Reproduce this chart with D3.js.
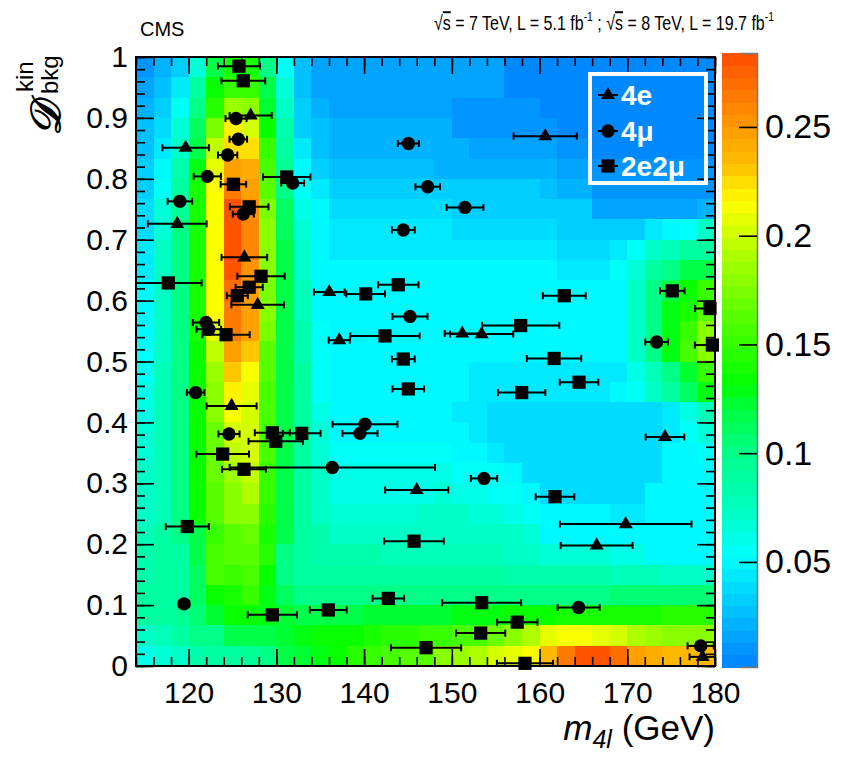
<!DOCTYPE html>
<html>
<head>
<meta charset="utf-8">
<script src="https://cdn.jsdelivr.net/npm/d3@7"></script>
<style>
  body { margin: 0; background: #fff; }
  svg text { font-family: "Liberation Sans", Arial, Helvetica, sans-serif; }
</style>
</head>
<body>
<div id="my_dataviz"></div>
<script>
// m4l bins: lower edges, 2 GeV wide
const massBins = [114,116,118,120,122,124,126,128,130,132,134,136,138,140,142,144,146,148,150,152,154,156,158,160,162,164,166,168,170,172,174,176,178];
const nDBins = 30;

// expected density, one row per D bin, from D = 1 (top) down to D = 0
const density = [
  [.010,.020,.030,.065,.118,.140,.142,.100,.055,.025,.018,.013,.013,.013,.013,.013,.013,.013,.013,.013,.013,.004,.004,.004,.004,.004,.004,.004,.004,.004,.004,.004,.004],
  [.015,.025,.045,.090,.132,.150,.150,.115,.065,.025,.018,.014,.014,.014,.014,.014,.014,.014,.014,.014,.014,.005,.005,.005,.005,.005,.005,.005,.005,.005,.005,.005,.005],
  [.020,.030,.055,.100,.145,.185,.180,.125,.072,.030,.022,.016,.016,.016,.016,.016,.016,.016,.010,.010,.010,.010,.010,.005,.005,.005,.005,.005,.005,.005,.005,.005,.005],
  [.025,.040,.068,.110,.175,.220,.200,.135,.085,.035,.025,.020,.020,.020,.020,.020,.020,.020,.012,.012,.012,.012,.012,.012,.006,.006,.006,.006,.006,.006,.006,.006,.006],
  [.028,.045,.075,.120,.195,.225,.225,.150,.090,.045,.028,.022,.022,.022,.022,.022,.022,.022,.022,.016,.016,.016,.016,.016,.011,.011,.006,.006,.006,.006,.006,.006,.006],
  [.030,.050,.085,.128,.205,.250,.240,.155,.095,.048,.032,.028,.028,.028,.028,.028,.028,.024,.024,.024,.024,.024,.024,.024,.016,.016,.008,.008,.008,.008,.008,.008,.008],
  [.033,.055,.090,.138,.215,.267,.250,.165,.100,.055,.045,.032,.032,.032,.032,.032,.032,.030,.030,.030,.030,.030,.030,.027,.020,.020,.011,.011,.011,.011,.011,.011,.011],
  [.036,.065,.095,.140,.215,.280,.255,.175,.110,.062,.048,.040,.040,.040,.040,.040,.040,.040,.030,.030,.030,.030,.030,.030,.030,.030,.018,.013,.013,.013,.013,.013,.020],
  [.040,.068,.100,.140,.215,.284,.260,.180,.112,.068,.050,.045,.045,.045,.045,.045,.045,.045,.038,.038,.038,.038,.038,.038,.030,.030,.030,.032,.032,.045,.050,.055,.070],
  [.042,.070,.100,.140,.215,.284,.260,.180,.115,.072,.050,.046,.046,.046,.046,.046,.046,.046,.043,.043,.043,.043,.043,.043,.040,.040,.040,.045,.058,.070,.078,.088,.092],
  [.045,.070,.100,.140,.215,.280,.255,.178,.118,.075,.052,.050,.050,.050,.050,.050,.050,.050,.048,.048,.048,.048,.048,.048,.045,.045,.045,.055,.065,.088,.100,.118,.118],
  [.048,.072,.100,.140,.215,.272,.250,.175,.120,.078,.052,.050,.050,.050,.050,.050,.050,.050,.050,.050,.050,.050,.050,.050,.050,.050,.050,.050,.070,.100,.120,.132,.150],
  [.050,.072,.100,.140,.215,.267,.250,.180,.120,.080,.052,.050,.050,.050,.050,.050,.050,.050,.050,.050,.050,.050,.050,.050,.050,.050,.050,.050,.072,.102,.128,.140,.165],
  [.052,.075,.100,.140,.210,.262,.245,.172,.120,.082,.053,.050,.050,.050,.050,.050,.050,.050,.050,.050,.050,.050,.050,.050,.050,.050,.050,.050,.075,.102,.128,.152,.182],
  [.055,.075,.100,.135,.195,.245,.230,.165,.118,.085,.055,.050,.050,.050,.050,.050,.050,.050,.050,.050,.050,.050,.050,.050,.050,.050,.050,.052,.070,.100,.128,.155,.180],
  [.058,.078,.100,.135,.185,.228,.215,.160,.118,.088,.058,.050,.050,.050,.050,.050,.050,.050,.050,.042,.042,.042,.042,.042,.042,.042,.042,.046,.062,.080,.100,.122,.150],
  [.060,.078,.100,.135,.180,.218,.205,.158,.118,.088,.058,.050,.050,.050,.050,.050,.050,.050,.050,.042,.042,.042,.042,.042,.042,.042,.042,.048,.058,.072,.088,.112,.130],
  [.062,.078,.100,.135,.180,.212,.203,.157,.118,.088,.060,.050,.050,.050,.050,.050,.050,.050,.045,.045,.037,.037,.037,.037,.037,.037,.037,.037,.037,.037,.045,.062,.080],
  [.065,.078,.100,.135,.170,.200,.200,.155,.118,.088,.065,.052,.052,.052,.052,.052,.052,.052,.048,.045,.037,.037,.037,.037,.037,.037,.037,.037,.037,.037,.042,.055,.068],
  [.068,.078,.100,.135,.168,.195,.200,.155,.118,.088,.068,.056,.056,.056,.056,.056,.056,.053,.050,.050,.046,.037,.037,.037,.037,.037,.037,.037,.037,.037,.048,.052,.055],
  [.070,.078,.100,.135,.168,.188,.195,.152,.118,.088,.070,.060,.060,.060,.060,.060,.060,.060,.056,.056,.053,.050,.037,.037,.037,.037,.037,.037,.037,.037,.050,.050,.050],
  [.072,.078,.100,.135,.165,.180,.190,.150,.118,.088,.072,.063,.063,.063,.063,.063,.063,.066,.060,.060,.058,.054,.050,.040,.040,.040,.040,.040,.040,.048,.048,.048,.048],
  [.075,.078,.100,.135,.165,.177,.182,.147,.118,.088,.072,.066,.066,.066,.066,.066,.070,.070,.070,.068,.068,.062,.056,.050,.050,.050,.050,.043,.043,.050,.050,.050,.050],
  [.080,.088,.100,.120,.152,.165,.170,.140,.120,.090,.082,.075,.075,.075,.075,.075,.075,.075,.075,.072,.072,.072,.064,.052,.052,.052,.052,.052,.052,.052,.052,.052,.052],
  [.085,.088,.090,.120,.158,.160,.160,.145,.100,.088,.085,.082,.082,.082,.078,.078,.078,.078,.078,.078,.078,.075,.075,.065,.065,.065,.065,.060,.060,.052,.052,.052,.052],
  [.085,.088,.090,.110,.155,.152,.155,.137,.100,.090,.088,.088,.088,.088,.088,.088,.088,.088,.088,.088,.088,.085,.085,.085,.085,.085,.085,.078,.078,.078,.072,.072,.072],
  [.088,.090,.092,.110,.135,.142,.150,.130,.112,.100,.100,.098,.098,.098,.098,.098,.098,.098,.098,.098,.098,.098,.098,.100,.100,.100,.100,.105,.105,.105,.105,.105,.105],
  [.090,.092,.095,.105,.125,.135,.135,.128,.122,.118,.118,.120,.120,.122,.122,.122,.122,.122,.127,.127,.127,.132,.132,.132,.140,.140,.140,.140,.140,.140,.145,.145,.145],
  [.072,.078,.090,.098,.100,.120,.120,.115,.122,.128,.132,.137,.137,.140,.145,.146,.150,.152,.155,.158,.170,.180,.190,.205,.215,.216,.210,.200,.190,.183,.182,.178,.178],
  [.062,.068,.075,.085,.090,.090,.095,.100,.115,.125,.130,.137,.145,.150,.155,.160,.165,.180,.185,.190,.200,.210,.215,.238,.267,.284,.284,.268,.250,.240,.238,.235,.235]
];

const xTicks = [120,130,140,150,160,170,180];
const yTicks = [0,0.1,0.2,0.3,0.4,0.5,0.6,0.7,0.8,0.9,1];
const zTicks = [0.05,0.1,0.15,0.2,0.25];
const zRange = [0.0017, 0.284];
const paletteStops  = [0, .010, .025, .040, .052, .075, .100, .120, .132, .150, .185, .205, .215, .225, .232, .250, .284];
const paletteColors = ["#0080ff","#0095ff","#00bbff","#00e0ff","#00ffff","#00ffc0","#00ff88","#00ff40","#00ff00","#33ff00","#99ff00","#ddff00","#ffff00","#ffdd00","#ffc000","#ff9a00","#ff4d00"];

// 4e events: m4l, D, m4l error
const m4e = [127.07,119.66,118.70,126.35,127.87,136.03,137.17,124.90,151.19,153.40,160.65,174.30,169.82,166.51,146.00,178.60];
const d4e = [0.904,0.851,0.726,0.671,0.593,0.614,0.535,0.427,0.546,0.545,0.870,0.376,0.233,0.198,0.289,0.015];
const e4e = [2.4,2.65,3.35,2.6,3.0,1.75,1.2,2.85,2.0,3.6,3.6,2.2,7.5,4.1,3.6,1.5];

// 4mu events
const m4mu = [125.40,125.66,124.45,122.13,131.86,119.00,126.23,145.05,147.25,151.50,144.47,145.23,121.98,122.30,120.80,124.60,140.10,139.53,136.38,119.47,153.67,164.46,178.37,173.35];
const d4mu = [0.899,0.865,0.839,0.804,0.793,0.763,0.742,0.858,0.787,0.753,0.716,0.574,0.564,0.553,0.449,0.381,0.397,0.382,0.326,0.102,0.308,0.096,0.033,0.532];
const e4mu = [1.2,1.0,1.1,1.55,1.3,1.4,1.2,1.2,1.4,2.1,1.3,2.0,1.5,1.4,1.0,1.2,3.7,2.0,11.7,0.6,1.5,2.4,1.5,1.3];

// 2e2mu events
const m2e2mu = [125.74,126.23,131.18,125.10,126.90,128.25,117.68,126.90,125.55,140.18,143.90,124.26,142.38,162.82,157.85,175.13,179.43,179.70,161.65,164.50,157.96,161.76,153.40,157.46,153.29,147.06,158.34,145.04,145.69,144.47,129.54,132.89,129.93,123.88,126.31,119.85,129.54,135.92,142.76];
const d2e2mu = [0.985,0.961,0.803,0.791,0.754,0.640,0.629,0.622,0.608,0.611,0.626,0.544,0.542,0.608,0.559,0.616,0.587,0.527,0.505,0.466,0.449,0.278,0.104,0.072,0.054,0.030,0.0044,0.455,0.205,0.504,0.383,0.382,0.369,0.348,0.323,0.229,0.084,0.092,0.111];
const e2e2mu = [2.4,2.5,2.7,1.45,2.2,2.7,3.8,1.55,1.2,2.2,2.3,2.7,3.95,2.45,4.4,1.4,1.7,2.0,3.1,2.2,2.7,2.2,4.5,2.3,2.8,4.0,3.2,1.8,3.4,1.3,2.0,2.15,3.1,3.0,2.5,2.45,2.8,2.1,1.8];

// frame
var margin = {top: 57, left: 136};
var width = 579, height = 609;

var svg = d3.select("#my_dataviz")
  .append("svg")
    .attr("width", 846)
    .attr("height", 758);

var g = svg.append("g")
  .attr("transform", "translate(" + margin.left + "," + margin.top + ")");

var x = d3.scaleLinear().domain([114, 180]).range([0, width]);
var y = d3.scaleLinear().domain([0, 1]).range([height, 0]);
var color = d3.scaleLinear().domain(paletteStops).range(paletteColors).clamp(true);

// ROOT-like discrete palette levels
var nLevels = 50;
function levelColor(v) {
  var t = (v - zRange[0]) / (zRange[1] - zRange[0]);
  t = Math.max(0, Math.min(0.9999, t));
  var k = Math.floor(t * nLevels);
  return color(zRange[0] + (k + 0.5) * (zRange[1] - zRange[0]) / nLevels);
}

// heat map cells
var cells = [];
density.forEach(function(row, r) {
  var j = nDBins - 1 - r;
  row.forEach(function(v, i) {
    cells.push({m0: massBins[i], m1: massBins[i] + 2, d0: j / nDBins, d1: (j + 1) / nDBins, v: v});
  });
});

g.append("g")
  .selectAll("rect")
  .data(cells)
  .enter()
  .append("rect")
    .attr("x", function(c) { return x(c.m0); })
    .attr("y", function(c) { return y(c.d1); })
    .attr("width", function(c) { return x(c.m1) - x(c.m0) + 0.6; })
    .attr("height", function(c) { return y(c.d0) - y(c.d1) + 0.6; })
    .attr("fill", function(c) { return levelColor(c.v); })
    .attr("shape-rendering", "crispEdges");

// axes, ticks inside the frame
var minorX = d3.range(114, 181, 2);
var minorY = d3.range(0, 1.0001, 0.02);

function styleAxis(sel) {
  sel.select(".domain").remove();
  sel.selectAll(".tick line").attr("stroke", "#000").attr("stroke-width", 1.6);
}

g.append("g").attr("transform", "translate(0," + height + ")")
  .call(d3.axisBottom(x).tickValues(minorX).tickSize(-9).tickFormat(""))
  .call(styleAxis);
g.append("g").attr("transform", "translate(0," + height + ")")
  .call(d3.axisBottom(x).tickValues(xTicks).tickSize(-17).tickPadding(16).tickFormat(d3.format("d")))
  .call(styleAxis)
  .selectAll("text").attr("font-size", 30).attr("fill", "#000").attr("font-family", "Liberation Sans, Arial, sans-serif");

g.append("g")
  .call(d3.axisTop(x).tickValues(minorX).tickSize(-9).tickFormat(""))
  .call(styleAxis);
g.append("g")
  .call(d3.axisTop(x).tickValues(xTicks).tickSize(-17).tickFormat(""))
  .call(styleAxis);

g.append("g")
  .call(d3.axisLeft(y).tickValues(minorY).tickSize(-9).tickFormat(""))
  .call(styleAxis);
g.append("g")
  .call(d3.axisLeft(y).tickValues(yTicks).tickSize(-18).tickPadding(8)
    .tickFormat(function(d) { return d === 0 ? "0" : d === 1 ? "1" : d3.format(".1f")(d); }))
  .call(styleAxis)
  .selectAll("text").attr("font-size", 30).attr("fill", "#000").attr("font-family", "Liberation Sans, Arial, sans-serif");

g.append("g").attr("transform", "translate(" + width + ",0)")
  .call(d3.axisRight(y).tickValues(minorY).tickSize(-9).tickFormat(""))
  .call(styleAxis);
g.append("g").attr("transform", "translate(" + width + ",0)")
  .call(d3.axisRight(y).tickValues(yTicks).tickSize(-18).tickFormat(""))
  .call(styleAxis);

g.append("rect")
  .attr("width", width).attr("height", height)
  .attr("fill", "none").attr("stroke", "#000").attr("stroke-width", 2);

// events with horizontal error bars
function drawChannel(ms, ds, es, shape, parent, xs, ys) {
  var pts = ms.map(function(m, i) { return {m: m, d: ds[i], e: es[i]}; });
  var grp = parent.append("g");
  var lo = function(p) { return Math.max(xs.domain()[0], p.m - p.e); };
  var hi = function(p) { return Math.min(xs.domain()[1], p.m + p.e); };
  grp.selectAll(".bar").data(pts).enter().append("line")
    .attr("x1", function(p) { return xs(lo(p)); })
    .attr("x2", function(p) { return xs(hi(p)); })
    .attr("y1", function(p) { return ys(p.d); })
    .attr("y2", function(p) { return ys(p.d); })
    .attr("stroke", "#000").attr("stroke-width", 2);
  var caps = [];
  pts.forEach(function(p) {
    if (p.m - p.e > xs.domain()[0]) caps.push({m: p.m - p.e, d: p.d});
    if (p.m + p.e < xs.domain()[1]) caps.push({m: p.m + p.e, d: p.d});
  });
  grp.selectAll(".cap").data(caps).enter().append("line")
    .attr("x1", function(c) { return xs(c.m); })
    .attr("x2", function(c) { return xs(c.m); })
    .attr("y1", function(c) { return ys(c.d) - 3.5; })
    .attr("y2", function(c) { return ys(c.d) + 3.5; })
    .attr("stroke", "#000").attr("stroke-width", 2);
  grp.selectAll(".mk").data(pts).enter().append("path")
    .attr("transform", function(p) { return "translate(" + xs(p.m) + "," + ys(p.d) + ")"; })
    .attr("d", d3.symbol().type(shape.type).size(shape.size))
    .attr("fill", "#000");
}

var triShape = {type: d3.symbolTriangle, size: 85};
var cirShape = {type: d3.symbolCircle, size: 140};
var sqrShape = {type: d3.symbolSquare, size: 175};

drawChannel(m4e, d4e, e4e, triShape, g, x, y);
drawChannel(m4mu, d4mu, e4mu, cirShape, g, x, y);
drawChannel(m2e2mu, d2e2mu, e2e2mu, sqrShape, g, x, y);

// colour bar
var zScale = d3.scaleLinear().domain(zRange).range([667, 53]);
var bands = d3.range(nLevels).map(function(k) {
  var a = zRange[0] + k * (zRange[1] - zRange[0]) / nLevels;
  return {a: a, b: a + (zRange[1] - zRange[0]) / nLevels};
});
svg.append("g")
  .selectAll("rect")
  .data(bands)
  .enter()
  .append("rect")
    .attr("x", 722)
    .attr("width", 35)
    .attr("y", function(b) { return zScale(b.b); })
    .attr("height", function(b) { return zScale(b.a) - zScale(b.b) + 0.5; })
    .attr("fill", function(b) { return levelColor((b.a + b.b) / 2); })
    .attr("shape-rendering", "crispEdges");

var zAxis = svg.append("g").attr("transform", "translate(757,0)")
  .call(d3.axisRight(zScale).tickValues(zTicks).tickSize(-18).tickPadding(8).tickFormat(function(d) { return String(d); }));
zAxis.select(".domain").attr("stroke", "#777").attr("stroke-width", 1.5);
zAxis.selectAll(".tick line").attr("stroke", "#000").attr("stroke-width", 1.6);
zAxis.selectAll("text").attr("font-size", 34).attr("fill", "#000").attr("font-family", "Liberation Sans, Arial, sans-serif");

// legend
var legend = svg.append("g");
legend.append("rect")
  .attr("x", 590).attr("y", 74).attr("width", 116).attr("height", 109)
  .attr("fill", "none").attr("stroke", "#fff").attr("stroke-width", 4);
var legItems = [
  {label: "4e", shape: triShape, yy: 95},
  {label: "4\u03bc", shape: cirShape, yy: 131},
  {label: "2e2\u03bc", shape: sqrShape, yy: 166}
];
legItems.forEach(function(it) {
  legend.append("line").attr("x1", 598).attr("x2", 618).attr("y1", it.yy).attr("y2", it.yy)
    .attr("stroke", "#000").attr("stroke-width", 2);
  legend.append("path").attr("transform", "translate(608," + it.yy + ")")
    .attr("d", d3.symbol().type(it.shape.type).size(it.shape.size)).attr("fill", "#000");
  legend.append("text").attr("x", 621).attr("y", it.yy + 10)
    .attr("font-size", 28).attr("font-weight", "bold").attr("fill", "#fff")
    .text(it.label);
});

// header
svg.append("text").attr("x", 140).attr("y", 36).attr("font-size", 20).attr("fill", "#000").text("CMS");

// condensed like the Helvetica of the original
var lumi = svg.append("g").attr("transform", "translate(434,30) scale(0.8,1)")
  .append("text").attr("x", 0).attr("y", 0)
  .attr("font-size", 20).attr("fill", "#000");
lumi.append("tspan").text("\u221a");
lumi.append("tspan").attr("text-decoration", "overline").text("s");
lumi.append("tspan").text(" = 7 TeV, L = 5.1 fb");
lumi.append("tspan").attr("font-size", 13).attr("dy", -9).text("-1");
lumi.append("tspan").attr("dy", 9).text(" ; \u221a");
lumi.append("tspan").attr("text-decoration", "overline").text("s");
lumi.append("tspan").text(" = 8 TeV, L = 19.7 fb");
lumi.append("tspan").attr("font-size", 13).attr("dy", -9).text("-1");

// x title
var xt = svg.append("text").attr("x", 715).attr("y", 740).attr("text-anchor", "end")
  .attr("font-size", 35).attr("fill", "#000");
xt.append("tspan").attr("font-style", "italic").text("m");
xt.append("tspan").attr("font-style", "italic").attr("font-size", 25).attr("dy", 8).text("4l");
xt.append("tspan").attr("dy", -8).text(" (GeV)");

// y title, rotated
var yt = svg.append("g").attr("transform", "rotate(-90)");
yt.append("text").attr("x", -136).attr("y", 60)
  .attr("font-size", 42).attr("font-style", "italic").attr("font-weight", "bold")
  .attr("font-family", "DejaVu Serif, serif").attr("fill", "#000")
  .text("\ud835\udc9f");
yt.append("text").attr("x", -92).attr("y", 33)
  .attr("font-size", 24).attr("fill", "#000").text("kin");
yt.append("text").attr("x", -94).attr("y", 58)
  .attr("font-size", 24).attr("fill", "#000").text("bkg");
</script>
</body>
</html>
